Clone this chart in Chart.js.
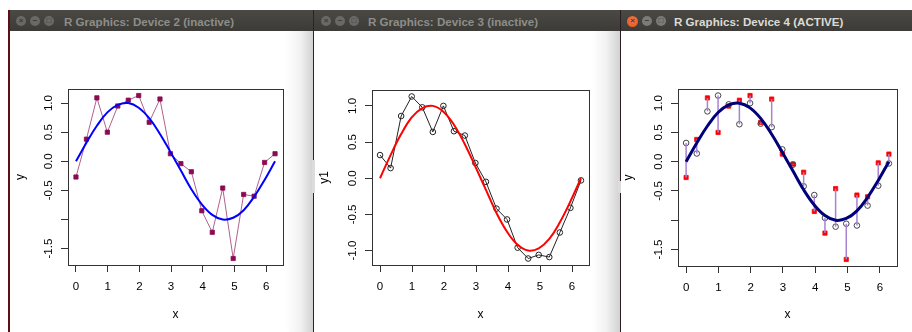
<!DOCTYPE html>
<html lang="en">
<head>
<meta charset="UTF-8">
<title>R Graphics</title>
<script src="https://cdn.jsdelivr.net/npm/chart.js"></script>
<style>
    body {
        margin: 0;
        width: 912px;
        height: 332px;
        position: relative;
        overflow: hidden;
        background: #fff;
        font-family: "Liberation Sans", Arial, sans-serif;
    }

    .win {
        position: absolute;
        top: 10px;
        bottom: 0;
        box-sizing: border-box;
    }

    .barra {
        position: absolute;
        left: 0;
        right: 0;
        top: 0;
        height: 21px;
        background: linear-gradient(#4a4944, #3c3b37);
    }

    .titulo {
        position: absolute;
        top: 0.5px;
        line-height: 21px;
        font-size: 11.6px;
        font-weight: bold;
        color: #8e8d89;
        white-space: nowrap;
    }

    .activa .titulo {
        color: #dcdad5;
    }

    .btn {
        position: absolute;
        top: 6px;
        width: 10px;
        height: 10px;
        border-radius: 50%;
        background: #6a6965;
        color: #3c3b37;
        font-size: 8px;
        line-height: 10px;
        text-align: center;
        font-weight: bold;
    }

    .activa .btn {
        background: #7c7b77;
    }

    .activa .btn.cerrar {
        background: radial-gradient(circle at 50% 40%, #f47a4a, #e0531f);
        width: 11px;
        height: 11px;
        top: 5.5px;
    }

    canvas {
        position: absolute;
        z-index: 2;
    }
</style>
</head>
<body>
    <div class="win" style="left:8px; width:305px; border-left:2px solid #5c0f14;
        background: linear-gradient(to right, #fff 0, #fff 275px, #f2f2f2 290px, #d2d2d2 100%);">
        <div class="barra">
            <div class="btn" style="left:6px">&times;</div>
            <div class="btn" style="left:20px">&minus;</div>
            <div class="btn" style="left:34px">&#9633;</div>
            <div class="titulo" style="left:54px">R Graphics: Device 2 (inactive)</div>
        </div>
    </div>
    <div class="win" style="left:313px; width:307px; border-left:1px solid #3a1a2c;
        background: linear-gradient(to right, #fff 0, #fff 278px, #f2f2f2 292px, #d2d2d2 100%);">
        <div class="barra">
            <div class="btn" style="left:7px">&times;</div>
            <div class="btn" style="left:21px">&minus;</div>
            <div class="btn" style="left:35px">&#9633;</div>
            <div class="titulo" style="left:54px">R Graphics: Device 3 (inactive)</div>
        </div>
    </div>
    <div class="win activa" style="left:620px; width:292px; border-left:1px solid #2a1a24; background:#fff;">
        <div class="barra">
            <div class="btn cerrar" style="left:6px">&times;</div>
            <div class="btn" style="left:21px">&minus;</div>
            <div class="btn" style="left:35px">&#9633;</div>
            <div class="titulo" style="left:53px">R Graphics: Device 4 (ACTIVE)</div>
        </div>
    </div>
    <div style="position:absolute; left:312px; top:160px; width:3px; height:33px; background:#dcdcdc; z-index:1"></div>
    <div style="position:absolute; left:618px; top:181px; width:3px; height:12px; background:#dcdcdc; z-index:1"></div>

    <canvas id="g1" width="300" height="301" style="left:10px; top:31px"></canvas>
    <canvas id="g2" width="300" height="301" style="left:315px; top:31px"></canvas>
    <canvas id="g3" width="292" height="301" style="left:620px; top:31px"></canvas>

<script>
    // Datos
    const xVals = [0, 0.33, 0.66, 0.99, 1.32, 1.65, 1.98, 2.31, 2.65, 2.98,
        3.31, 3.64, 3.97, 4.30, 4.63, 4.96, 5.29, 5.62, 5.95, 6.28];
    const yVals = [-0.27, 0.38, 1.09, 0.50, 0.95, 1.05, 1.13, 0.67, 1.07, 0.13,
        -0.04, -0.18, -0.85, -1.22, -0.46, -1.67, -0.57, -0.60, -0.02, 0.13];
    const y1Vals = [0.32, 0.14, 0.86, 1.13, 0.98, 0.64, 1.00, 0.65, 0.59, 0.21,
        -0.05, -0.42, -0.57, -0.96, -1.11, -1.06, -1.09, -0.75, -0.41, -0.03];
    const curvaY = [0.00, 0.32, 0.61, 0.84, 0.97, 1.00, 0.92, 0.74, 0.47, 0.16,
        -0.16, -0.48, -0.74, -0.92, -1.00, -0.97, -0.84, -0.61, -0.32, 0.00];

    const xTicks = [0, 1, 2, 3, 4, 5, 6];
    const xLabels = ['0', '1', '2', '3', '4', '5', '6'];
    const yTicksA = [-1.5, -1.0, -0.5, 0.0, 0.5, 1.0];
    const yLabelsA = ['-1.5', '', '-0.5', '0.0', '0.5', '1.0'];
    const yTicksB = [-1.0, -0.5, 0.0, 0.5, 1.0];
    const yLabelsB = ['-1.0', '-0.5', '0.0', '0.5', '1.0'];

    const fuente = "'Liberation Sans', Arial, Helvetica, sans-serif";

    // limites como R: rango de los datos +4%
    function rango(vals) {
        const min = Math.min(...vals), max = Math.max(...vals);
        const d = (max - min) * 0.04;
        return [min - d, max + d];
    }

    const puntos = (ys) => xVals.map((x, i) => ({ x: x, y: ys[i] }));

    // caja alrededor del area de la grafica
    const caja = {
        id: 'caja',
        afterDatasetsDraw(chart) {
            const { ctx, chartArea: a } = chart;
            ctx.save();
            ctx.strokeStyle = '#333';
            ctx.lineWidth = 1;
            ctx.strokeRect(Math.round(a.left) + 0.5, Math.round(a.top) + 0.5,
                Math.round(a.right - a.left), Math.round(a.bottom - a.top));
            ctx.restore();
        }
    };

    function grafica(id, geo, datasets, yTicks, yLabels, ylim, yTitulo, yTitPad) {
        const canvas = document.getElementById(id);
        const xlim = rango(xVals);
        return new Chart(canvas, {
            type: 'scatter',
            data: { datasets: datasets },
            plugins: [caja],
            options: {
                responsive: false,
                animation: false,
                devicePixelRatio: 1,
                layout: { padding: { left: 0, top: geo.top, right: geo.right, bottom: 0 } },
                plugins: { legend: { display: false }, tooltip: { enabled: false } },
                scales: {
                    x: {
                        type: 'linear',
                        min: xlim[0],
                        max: xlim[1],
                        afterBuildTicks: s => { s.ticks = xTicks.map(v => ({ value: v })); },
                        afterFit: s => { s.height = geo.xAlto; },
                        border: { display: false },
                        grid: { drawOnChartArea: false, drawTicks: true, tickLength: 7, color: '#333', lineWidth: 1 },
                        ticks: {
                            autoSkip: false, maxRotation: 0, padding: 8, color: '#000',
                            font: { family: fuente, size: 11.5 },
                            callback: (v, i) => xLabels[i]
                        },
                        title: {
                            display: true, text: 'x', color: '#000',
                            font: { family: fuente, size: 12 },
                            padding: { top: 0, bottom: 9.8 }
                        }
                    },
                    y: {
                        type: 'linear',
                        min: ylim[0],
                        max: ylim[1],
                        afterBuildTicks: s => { s.ticks = yTicks.map(v => ({ value: v })); },
                        afterFit: s => { s.width = geo.yAncho; },
                        border: { display: false },
                        grid: { drawOnChartArea: false, drawTicks: true, tickLength: 7, color: '#333', lineWidth: 1 },
                        ticks: {
                            autoSkip: false, minRotation: 90, maxRotation: 90, crossAlign: 'center',
                            padding: 2, color: '#000',
                            font: { family: fuente, size: 11.5 },
                            callback: (v, i) => yLabels[i]
                        },
                        title: {
                            display: true, text: yTitulo, color: '#000',
                            font: { family: fuente, size: 12 },
                            padding: { top: yTitPad, bottom: 0 }
                        }
                    }
                }
            }
        });
    }

    // Device 2
    grafica('g1', { top: 58, right: 27, yAncho: 58, xAlto: 67 }, [
        {
            data: puntos(curvaY), showLine: true, tension: 0.4, pointRadius: 0,
            borderColor: '#0000ff', borderWidth: 2, order: 0
        },
        {
            data: puntos(yVals), showLine: true, borderColor: '#b0608c', borderWidth: 1,
            pointStyle: 'rect', pointRadius: 3, pointBorderWidth: 0.8,
            pointBackgroundColor: '#8b0a50', pointBorderColor: '#8b0a50', order: 1
        }
    ], yTicksA, yLabelsA, rango(yVals), 'y', 3.5);

    // Device 3
    grafica('g2', { top: 59, right: 26, yAncho: 57, xAlto: 67 }, [
        {
            data: puntos(curvaY), showLine: true, tension: 0.4, pointRadius: 0,
            borderColor: '#ff0000', borderWidth: 2, order: 0
        },
        {
            data: puntos(y1Vals), showLine: true, borderColor: '#222', borderWidth: 1,
            pointStyle: 'circle', pointRadius: 2.8, pointBorderWidth: 1,
            pointBackgroundColor: 'rgba(0,0,0,0)', pointBorderColor: '#222', order: 1
        }
    ], yTicksB, yLabelsB, rango(y1Vals), 'y1', 2.3);

    // Device 4: segmentos entre y e y1
    const segmentos = xVals.map((x, i) => ({
        data: [{ x: x, y: yVals[i] }, { x: x, y: y1Vals[i] }],
        showLine: true, pointRadius: 0, borderColor: '#a883d2', borderWidth: 1.5, order: 1
    }));

    grafica('g3', { top: 58, right: 15, yAncho: 58, xAlto: 66 }, [
        {
            data: puntos(curvaY), showLine: true, tension: 0.4, pointRadius: 0,
            borderColor: '#00007a', borderWidth: 3, order: 0
        },
        ...segmentos,
        {
            data: puntos(y1Vals), showLine: false,
            pointStyle: 'circle', pointRadius: 2.8, pointBorderWidth: 1,
            pointBackgroundColor: 'rgba(0,0,0,0)', pointBorderColor: '#444', order: 2
        },
        {
            data: puntos(yVals), showLine: false,
            pointStyle: 'rect', pointRadius: 3, pointBorderWidth: 0.8,
            pointBackgroundColor: '#ff0000', pointBorderColor: '#ff0000', order: 3
        }
    ], yTicksA, yLabelsA, rango(yVals), 'y', 1.8);
</script>
</body>
</html>
